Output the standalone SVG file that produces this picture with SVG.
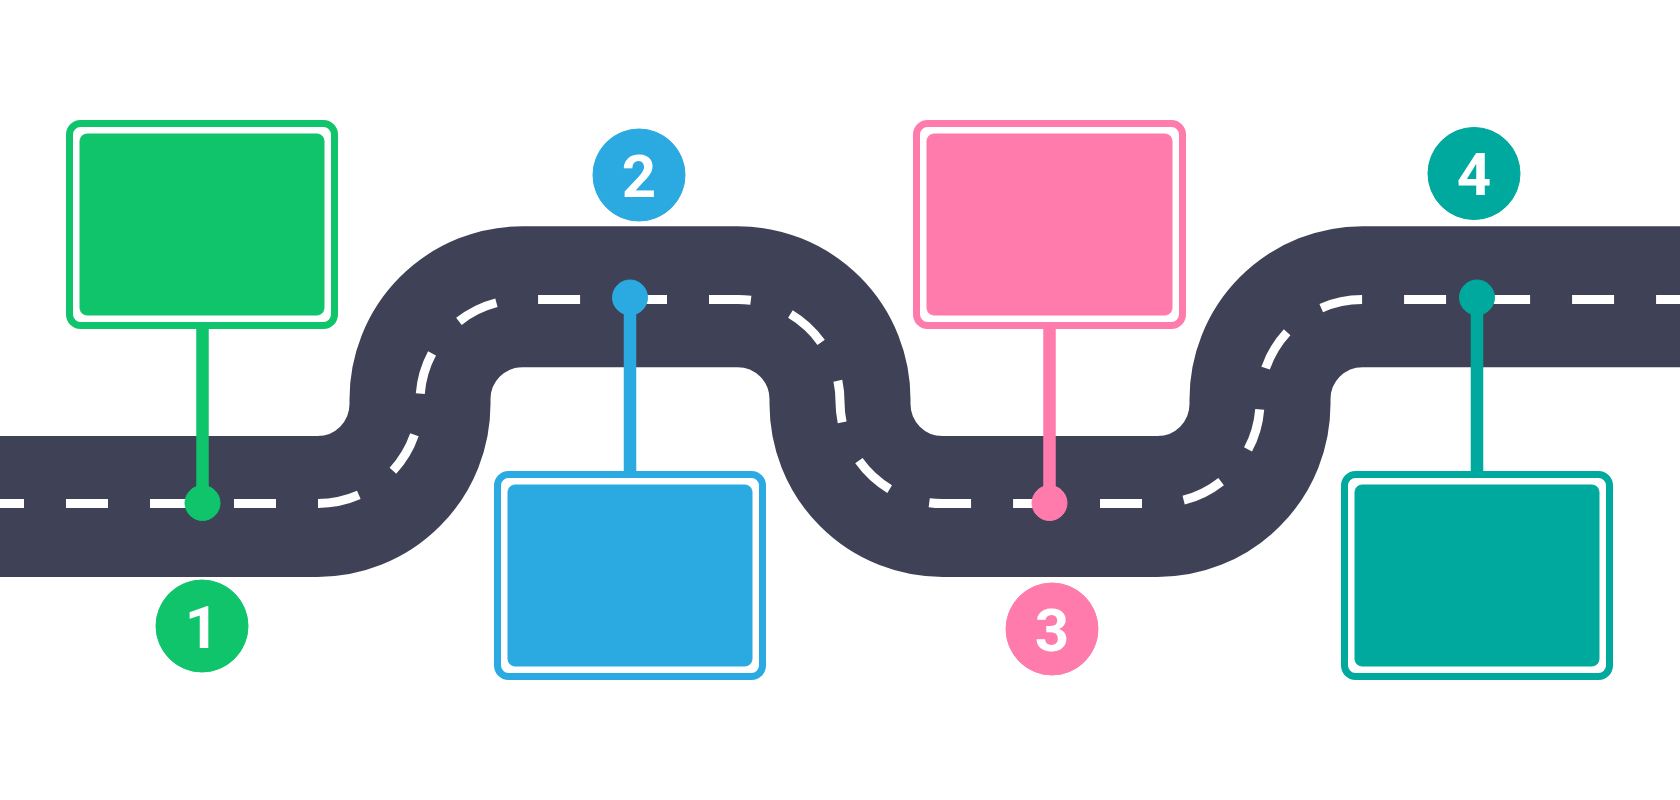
<svg xmlns="http://www.w3.org/2000/svg" width="1680" height="800" viewBox="0 0 1680 800">
  <style>
    .road { fill: none; stroke: #3f4256; stroke-width: 141; stroke-linecap: butt; }
    .dash { fill: none; stroke: #ffffff; stroke-width: 9; stroke-dasharray: 42 42; }
    .frame { fill: #ffffff; stroke-width: 7; }
    .num { font-family: Roboto, "Liberation Sans", Arial, sans-serif; font-weight: 700; font-size: 60px; fill: #ffffff; text-anchor: middle; }
    .post { stroke-width: 12.5; }
    .green { fill: #10c46c; stroke: #10c46c; }
    .blue { fill: #2aaae1; stroke: #2aaae1; }
    .pink { fill: #ff7bac; stroke: #ff7bac; }
    .teal { fill: #00a99d; stroke: #00a99d; }
    .frame.green, .frame.blue, .frame.pink, .frame.teal { fill: #ffffff; }
  </style>
  <rect width="1680" height="800" fill="#ffffff"/>

  <g id="road">
    <path class="road" d="M -10 506.5 H 317.5 A 102.5 102.5 0 0 0 420 404 V 399.2 A 102.5 102.5 0 0 1 522.5 296.7 H 737.5 A 102.5 102.5 0 0 1 840 399.2 V 404 A 102.5 102.5 0 0 0 942.5 506.5 H 1157.5 A 102.5 102.5 0 0 0 1260 404 V 399.2 A 102.5 102.5 0 0 1 1362.5 296.7 H 1690"/>
    <path class="dash" stroke-dashoffset="18" d="M 0 503.5 H 318 A 102 102 0 0 0 420 401.5 A 102 102 0 0 1 522 299.5 H 630"/>
    <path class="dash" stroke-dashoffset="5" d="M 630 299.5 H 738 A 102 102 0 0 1 840 401.5 A 102 102 0 0 0 942 503.5 H 1050"/>
    <path class="dash" stroke-dashoffset="34" d="M 1050 503.5 H 1158 A 102 102 0 0 0 1260 401.5 A 102 102 0 0 1 1362 299.5 H 1690"/>
  </g>

  <g id="connectors">
    <line class="post green" x1="202.5" y1="325" x2="202.5" y2="503"/>
    <circle class="green" cx="202.5" cy="503" r="17.5" stroke="none"/>
    <line class="post blue" x1="630" y1="297.5" x2="630" y2="475"/>
    <circle class="blue" cx="630" cy="297.5" r="17.5" stroke="none"/>
    <line class="post pink" x1="1049.5" y1="325" x2="1049.5" y2="503"/>
    <circle class="pink" cx="1049.5" cy="503" r="17.5" stroke="none"/>
    <line class="post teal" x1="1477" y1="297.5" x2="1477" y2="475"/>
    <circle class="teal" cx="1477" cy="297.5" r="17.5" stroke="none"/>
  </g>

  <g id="step-1">
    <rect class="frame green" x="69.5" y="123.5" width="265" height="202" rx="11"/>
    <rect class="green" x="80" y="134" width="244" height="181" rx="7" stroke="none"/>
    <circle class="green" cx="202" cy="626" r="46" stroke="none"/>
    <text class="num" x="202" y="647.5">1</text>
  </g>

  <g id="step-2">
    <rect class="frame blue" x="497.5" y="474.5" width="265" height="202" rx="11"/>
    <rect class="blue" x="508" y="485" width="244" height="181" rx="7" stroke="none"/>
    <circle class="blue" cx="639" cy="175" r="46" stroke="none"/>
    <text class="num" x="639" y="196.5">2</text>
  </g>

  <g id="step-3">
    <rect class="frame pink" x="916.5" y="123.5" width="266" height="202" rx="11"/>
    <rect class="pink" x="927" y="134" width="245" height="181" rx="7" stroke="none"/>
    <circle class="pink" cx="1052" cy="629" r="46" stroke="none"/>
    <text class="num" x="1052" y="650.5">3</text>
  </g>

  <g id="step-4">
    <rect class="frame teal" x="1344.5" y="474.5" width="265" height="202" rx="11"/>
    <rect class="teal" x="1355" y="485" width="244" height="181" rx="7" stroke="none"/>
    <circle class="teal" cx="1474" cy="173.5" r="46" stroke="none"/>
    <text class="num" x="1474" y="195">4</text>
  </g>
</svg>
